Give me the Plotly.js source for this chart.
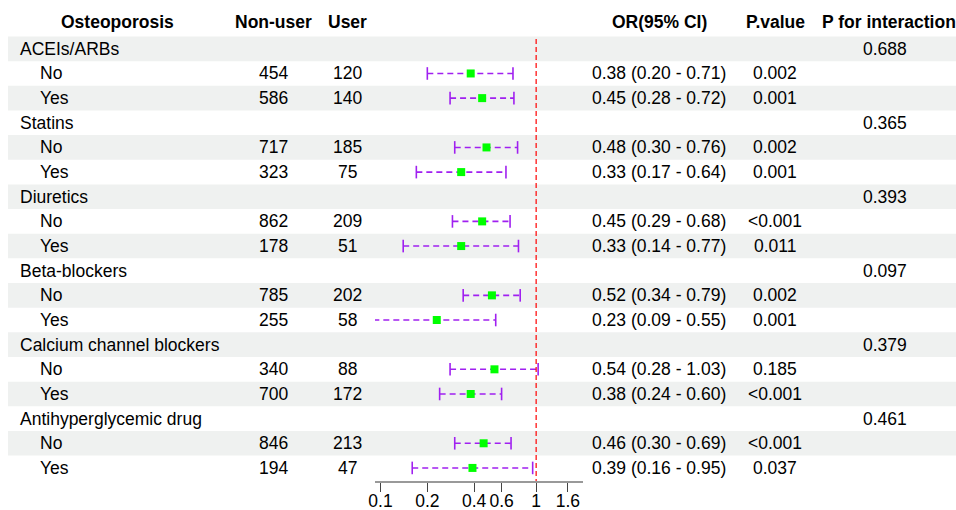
<!DOCTYPE html>
<html>
<head>
<meta charset="utf-8">
<script src="https://cdn.plot.ly/plotly-3.0.1.min.js"></script>
<style>html,body{margin:0;padding:0;background:#fff;overflow:hidden;}#chart{width:956px;height:510px;}</style>
</head>
<body>
<div id="chart"></div>
<script>
const rowLabels = ["ACEIs/ARBs","No","Yes","Statins","No","Yes","Diuretics","No","Yes","Beta-blockers","No","Yes","Calcium channel blockers","No","Yes","Antihyperglycemic drug","No","Yes"];
const nonUser = ["",454,586,"",717,323,"",862,178,"",785,255,"",340,700,"",846,194];
const user = ["",120,140,"",185,75,"",209,51,"",202,58,"",88,172,"",213,47];
const orVal = [null,0.38,0.45,null,0.48,0.33,null,0.45,0.33,null,0.52,0.23,null,0.54,0.38,null,0.46,0.39];
const lower = [null,0.20,0.28,null,0.30,0.17,null,0.29,0.14,null,0.34,0.09,null,0.28,0.24,null,0.30,0.16];
const upper = [null,0.71,0.72,null,0.76,0.64,null,0.68,0.77,null,0.79,0.55,null,1.03,0.60,null,0.69,0.95];
const pValue = ["","0.002","0.001","","0.002","0.001","","<0.001","0.011","","0.002","0.001","","0.185","<0.001","","<0.001","0.037"];
const pInteraction = ["0.688","","","0.365","","","0.393","","","0.097","","","0.379","","","0.461","",""];
const headers = ["Osteoporosis","Non-user","User","OR(95% CI)","P.value","P for interaction"];
const tickVals = [0.1,0.2,0.4,0.6,1,1.6];
const tickText = ["0.1","0.2","0.4","0.6","1","1.6"];

const W = 956, H = 510;
const FONT = "Liberation Sans, Arial, sans-serif";
const FS = 17.5;
const px = v => v / W;

const colX = {label: 19, sub: 39, nonUser: 273, user: 347, or: 659, p: 775, pint: 885};
const headerX = [117, 273, 347, 659, 775, 821];
const headerAnchor = ["center", "center", "center", "center", "center", "left"];

const rowsY = rowLabels.map((_, i) => i + 1);

// CI lines
const ciX = [], ciY = [];
const ptX = [], ptY = [];
rowsY.forEach((y, i) => {
  if (orVal[i] !== null) {
    ciX.push(lower[i], upper[i], null);
    ciY.push(y, y, null);
    ptX.push(orVal[i]);
    ptY.push(y);
  }
});

const traces = [
  {
    type: "scatter", mode: "lines+markers", x: ciX, y: ciY,
    line: {color: "#A020F0", width: 1.6, dash: "6px,4px"},
    marker: {symbol: "line-ns", size: 9, line: {color: "#A020F0", width: 1.6}, color: "#A020F0"},
    hoverinfo: "skip", showlegend: false, cliponaxis: false
  },
  {
    type: "scatter", mode: "markers", x: ptX, y: ptY,
    marker: {symbol: "square", size: 8, color: "#00FF00", line: {width: 0}},
    hoverinfo: "skip", showlegend: false, cliponaxis: false
  }
];

const shapes = [];
rowsY.forEach((y, i) => {
  if (i % 2 === 0) {
    shapes.push({type: "rect", xref: "paper", yref: "y", x0: px(8), x1: 1, y0: y - 0.5, y1: y + 0.5,
      fillcolor: "#EFF1F0", line: {width: 0}, layer: "below"});
  }
});
shapes.push({type: "line", xref: "x", yref: "y", x0: 1, x1: 1, y0: 0.6, y1: 18.53,
  line: {color: "#FF0000", width: 1.2, dash: "5px,3px"}, layer: "above"});

const annotations = [];
const addText = (text, x, y, anchor, bold) => {
  annotations.push({text: bold ? "<b>" + text + "</b>" : text, xref: "paper", yref: "y",
    x: px(x), y: y, xanchor: anchor, yanchor: "middle", showarrow: false,
    font: {family: FONT, size: FS, color: "#000"}, borderpad: 0});
};
headers.forEach((h, k) => addText(h, headerX[k], -0.07, headerAnchor[k], true));
rowsY.forEach((y, i) => {
  const isGroup = orVal[i] === null;
  addText(rowLabels[i], isGroup ? colX.label : colX.sub, y, "left", false);
  if (nonUser[i] !== "") addText(String(nonUser[i]), colX.nonUser, y, "center", false);
  if (user[i] !== "") addText(String(user[i]), colX.user, y, "center", false);
  if (!isGroup) {
    addText(orVal[i].toFixed(2) + " (" + lower[i].toFixed(2) + " - " + upper[i].toFixed(2) + ")", colX.or, y, "center", false);
  }
  if (pValue[i] !== "") addText(pValue[i], colX.p, y, "center", false);
  if (pInteraction[i] !== "") addText(pInteraction[i], colX.pint, y, "center", false);
});

const layout = {
  width: W, height: H,
  margin: {l: 0, r: 0, t: 0, b: 0, pad: 0},
  paper_bgcolor: "#fff", plot_bgcolor: "rgba(0,0,0,0)",
  showlegend: false,
  xaxis: {
    type: "log", domain: [px(375), px(583)], range: [-1.035, 0.301],
    tickvals: tickVals, ticktext: tickText,
    ticks: "outside", ticklen: 9, tickwidth: 1, tickcolor: "#444",
    ticklabelstandoff: -6,
    showline: true, linecolor: "#999", linewidth: 2,
    showgrid: false, zeroline: false,
    tickfont: {family: FONT, size: FS, color: "#000"},
    anchor: "y", fixedrange: true
  },
  yaxis: {
    domain: [(H - 481) / H, 1], range: [18.53, -0.98],
    showgrid: false, zeroline: false, showline: false, showticklabels: false, ticks: "",
    fixedrange: true
  },
  shapes: shapes,
  annotations: annotations
};

Plotly.newPlot("chart", traces, layout, {staticPlot: true, displayModeBar: false});
</script>
</body>
</html>
